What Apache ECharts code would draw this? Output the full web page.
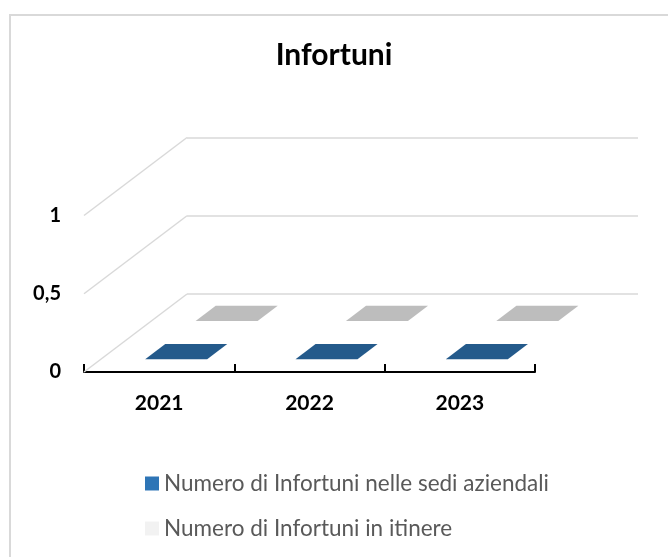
<!DOCTYPE html>
<html>
<head>
<meta charset="utf-8">
<script src="https://cdn.jsdelivr.net/npm/echarts@6/dist/echarts.min.js"></script>
<style>
html,body{margin:0;padding:0;background:#fff;}
#chart{width:668px;height:557px;}
</style>
</head>
<body>
<div id="chart"></div>
<script>
// ---- data ----
const categories = ['2021', '2022', '2023'];
const sediAziendali = [0, 0, 0];
const inItinere = [0, 0, 0];
const seriesNames = ['Numero di Infortuni nelle sedi aziendali', 'Numero di Infortuni in itinere'];
const yTicks = [0, 0.5, 1];
const titleText = 'Infortuni';

// ---- pseudo-3D depth vector (front -> back wall) ----
const DX = 103, DY = 78;
const FONT = 'Lato, "Open Sans", "Liberation Sans", sans-serif';

function P(x, y, d) { return [x + d * DX, y - d * DY]; }

function makeBar(d1, d2, topColor, frontColor, sideColor) {
  return function (params, api) {
    const i = api.value(0), v = api.value(1);
    const base = api.coord([i, 0]);
    const top = api.coord([i, v]);
    const hw = 31;
    const xl = base[0] - hw, xr = base[0] + hw;
    const yb = base[1], yt = top[1];
    const children = [];
    if (yb - yt > 0.5) {
      children.push({type: 'polygon', shape: {points: [P(xl, yb, d1), P(xr, yb, d1), P(xr, yt, d1), P(xl, yt, d1)]}, style: {fill: frontColor}});
      children.push({type: 'polygon', shape: {points: [P(xr, yb, d1), P(xr, yb, d2), P(xr, yt, d2), P(xr, yt, d1)]}, style: {fill: sideColor}});
    }
    children.push({type: 'polygon', shape: {points: [P(xl, yt, d1), P(xr, yt, d1), P(xr, yt, d2), P(xl, yt, d2)]}, style: {fill: topColor}});
    return {type: 'group', children: children};
  };
}

const chart = echarts.init(document.getElementById('chart'), null, {renderer: 'canvas'});
chart.setOption({
  animation: false,
  backgroundColor: '#fff',
  graphic: [{
    type: 'rect', z: -10, silent: true,
    shape: {x: 10, y: 15, width: 720, height: 620},
    style: {fill: '#fff', stroke: '#d9d9d9', lineWidth: 2}
  }],
  title: {
    text: titleText, left: 'center', top: 35,
    textStyle: {fontFamily: FONT, fontWeight: 'bold', fontSize: 30, color: '#000'}
  },
  legend: {
    orient: 'vertical', left: 140, top: 467,
    itemWidth: 14, itemHeight: 14, itemGap: 22, icon: 'rect',
    data: seriesNames,
    textStyle: {fontFamily: FONT, fontSize: 22.5, color: '#595959'}
  },
  grid: [
    {left: 84, width: 451, top: 215.5, height: 156.5},
    {left: 187, width: 451, top: 137.5, height: 156}
  ],
  xAxis: [
    {
      gridIndex: 0, type: 'category', data: categories, boundaryGap: true,
      axisLine: {show: true, lineStyle: {color: '#000', width: 2}},
      axisTick: {show: true, inside: true, length: 8, alignWithLabel: false, interval: 0, lineStyle: {color: '#000', width: 2}},
      axisLabel: {margin: 21, fontFamily: FONT, fontWeight: 'bold', fontSize: 21, color: '#000'}
    },
    {gridIndex: 1, type: 'category', data: categories, show: false}
  ],
  yAxis: [
    {
      gridIndex: 0, type: 'value', min: 0, max: 1, interval: 0.5,
      axisLine: {show: false}, axisTick: {show: false}, splitLine: {show: false},
      axisLabel: {margin: 23, fontFamily: FONT, fontWeight: 'bold', fontSize: 20, color: '#000',
        formatter: v => String(v).replace('.', ',')}
    },
    {
      gridIndex: 1, type: 'value', min: 0, max: 1, interval: 0.5,
      axisLine: {show: false}, axisTick: {show: false}, axisLabel: {show: false},
      splitLine: {lineStyle: {color: '#d9d9d9', width: 1.5}}
    }
  ],
  series: [
    {
      name: 'floorGrid', type: 'custom', xAxisIndex: 0, yAxisIndex: 0, clip: false, silent: true, z: 1,
      data: yTicks.map(v => [0, v]),
      renderItem: function (params, api) {
        const y = api.coord([0, api.value(1)])[1];
        const x = params.coordSys.x;
        return {type: 'line', shape: {x1: x, y1: y, x2: x + DX, y2: y - DY},
          style: {stroke: '#d9d9d9', lineWidth: 1.5}};
      }
    },
    {
      name: seriesNames[0], type: 'custom', xAxisIndex: 0, yAxisIndex: 0, clip: false, z: 3,
      itemStyle: {color: '#2E75B6'},
      data: sediAziendali.map((v, i) => [i, v]),
      encode: {x: 0, y: 1},
      renderItem: makeBar(0.165, 0.36, '#245a8b', '#2E75B6', '#1f4e79')
    },
    {
      name: seriesNames[1], type: 'custom', xAxisIndex: 0, yAxisIndex: 0, clip: false, z: 2,
      itemStyle: {color: '#f2f2f2'},
      data: inItinere.map((v, i) => [i, v]),
      encode: {x: 0, y: 1},
      renderItem: makeBar(0.655, 0.85, '#bdbdbd', '#d9d9d9', '#a6a6a6')
    }
  ]
});
</script>
</body>
</html>
